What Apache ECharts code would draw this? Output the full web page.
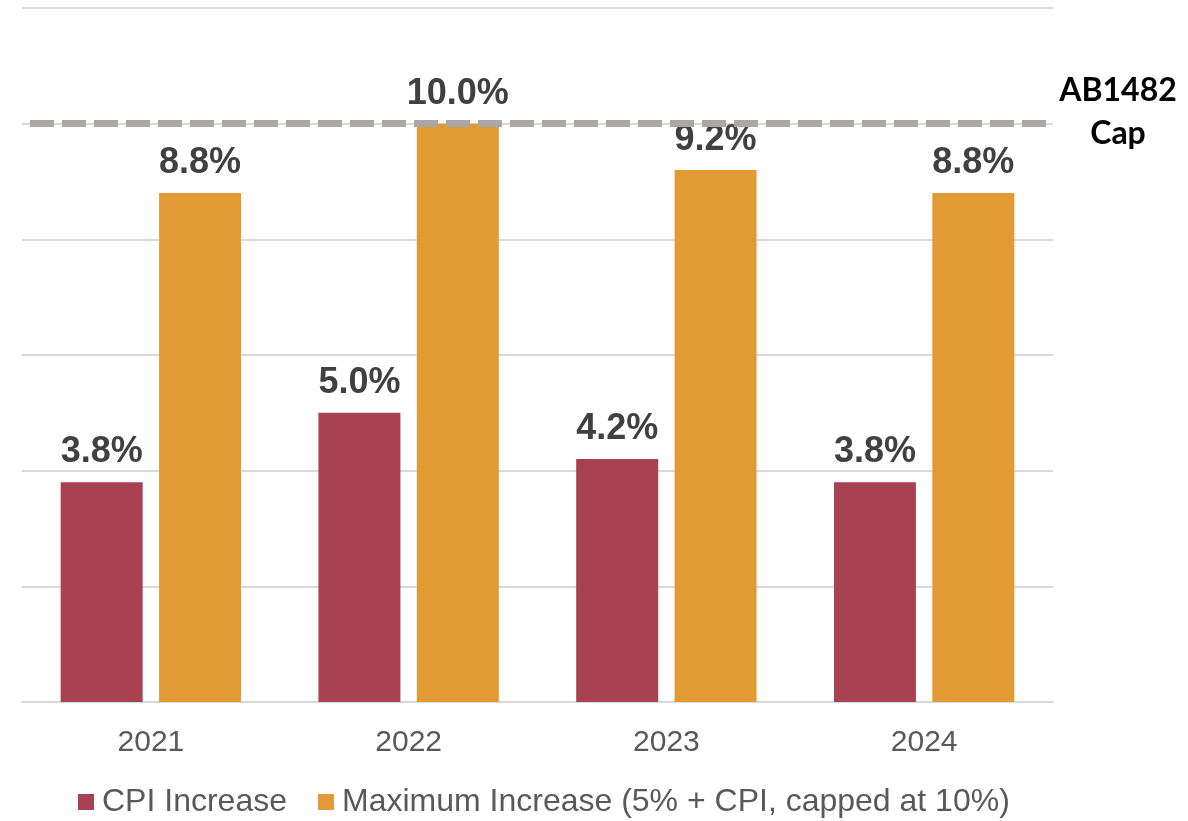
<!DOCTYPE html>
<html>
<head>
<meta charset="utf-8">
<style>
  html, body { margin: 0; padding: 0; background: #ffffff; }
  #chart { width: 1188px; height: 821px; }
</style>
<script src="https://cdn.jsdelivr.net/npm/echarts@6/dist/echarts.min.js"></script>
</head>
<body>
<div id="chart"></div>
<script>
// Allowed annual rent increase by year
const years = ['2021', '2022', '2023', '2024'];
const cpiIncrease = [3.8, 5.0, 4.2, 3.8];
const maxIncrease = [8.8, 10.0, 9.2, 8.8];
const capValue = 10;
const capLabel = 'AB1482\nCap';
const seriesNames = ['CPI Increase', 'Maximum Increase (5% + CPI, capped at 10%)'];

const FONT = '"Liberation Sans", Arial, sans-serif';

const valueLabel = {
  show: true,
  position: 'top',
  distance: 12,
  formatter: p => p.value.toFixed(1) + '%',
  fontFamily: FONT,
  fontWeight: 'bold',
  fontSize: 36,
  color: '#404040'
};

const chart = echarts.init(document.getElementById('chart'), null, { renderer: 'canvas' });
chart.setOption({
  animation: false,
  backgroundColor: '#ffffff',
  grid: { left: 22, right: 135, top: 8, bottom: 119, containLabel: false },
  legend: {
    left: 73,
    top: 781,
    itemWidth: 16,
    itemHeight: 16,
    itemGap: 31,
    icon: 'rect',
    textStyle: { fontFamily: FONT, fontSize: 32, color: '#595959', padding: [0, 0, 0, 3] },
    data: seriesNames
  },
  xAxis: {
    type: 'category',
    data: years,
    axisLine: { lineStyle: { color: '#d9d9d9', width: 2 } },
    axisTick: { show: false },
    axisLabel: { fontFamily: FONT, fontSize: 30, color: '#595959', margin: 26 }
  },
  yAxis: {
    type: 'value',
    min: 0,
    max: 12,
    interval: 2,
    axisLabel: { show: false },
    axisLine: { show: false },
    axisTick: { show: false },
    splitLine: { lineStyle: { color: '#d9d9d9', width: 2 } }
  },
  series: [
    {
      name: seriesNames[0],
      type: 'bar',
      data: cpiIncrease,
      barWidth: 82,
      barGap: '20%',
      itemStyle: { color: '#a84253' },
      label: valueLabel
    },
    {
      name: seriesNames[1],
      type: 'bar',
      data: maxIncrease,
      barWidth: 82,
      itemStyle: { color: '#e29b34' },
      label: valueLabel,
      markLine: {
        silent: true,
        symbol: ['none', 'none'],
        z: 10,
        data: [{ yAxis: capValue }],
        lineStyle: {
          color: '#aba7a7',
          width: 7,
          type: [24, 8],
          dashOffset: 24
        },
        label: {
          show: true,
          position: 'end',
          formatter: capLabel,
          align: 'center',
          verticalAlign: 'middle',
          offset: [60, -11],
          fontFamily: 'Lato, "Open Sans", sans-serif',
          fontWeight: 'bold',
          fontSize: 32,
          lineHeight: 43,
          color: '#000000'
        }
      }
    }
  ]
});
</script>
</body>
</html>
